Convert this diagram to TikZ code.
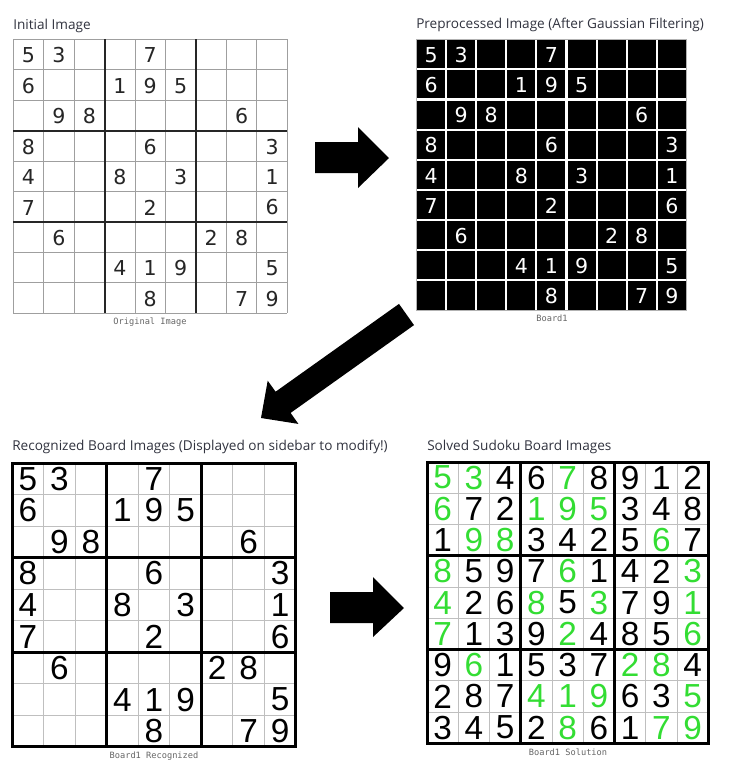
\documentclass[tikz,border=0pt]{standalone}
\usepackage{fontspec}
\setmainfont{Open Sans}
\newfontfamily\digA{DejaVu Sans}
\newfontfamily\digB{Liberation Sans}
\newfontfamily\capfont{DejaVu Sans Mono}
\definecolor{titlecol}{HTML}{31333F}
\definecolor{capcol}{HTML}{666666}
\definecolor{solg}{HTML}{33DD33}
\definecolor{solk}{HTML}{000000}
\tikzset{
  titletext/.style={anchor=base west,inner sep=0,text=titlecol,font=\fontsize{10.2}{11}\selectfont},
  captext/.style={anchor=base,inner sep=0,text=capcol,font=\capfont\fontsize{6.5}{7}\selectfont},
  digitA/.style={inner sep=0,font=\digA\fontsize{15.4}{16}\selectfont},
  digitB/.style={inner sep=0,font=\digB\fontsize{25}{25}\selectfont},
  thingray/.style={draw=gray!75,line width=0.75pt},
  thickdark/.style={draw=black!85,line width=1.5pt},
  thinlight/.style={draw=gray!50,line width=0.75pt},
  thickblack/.style={draw=black,line width=1.9pt},
  blockarrow/.style={fill=black,draw=none},
}
\begin{document}
\begin{tikzpicture}[x=0.75pt,y=-0.75pt]
\useasboundingbox (0,0) rectangle (730,779);
\fill[white] (0,0) rectangle (730,779);

% ---------- titles ----------
\node[titletext] (t1) at (13,29.3) {Initial Image};
\node[titletext] (t2) at (416,28.5) {Preprocessed Image (After Gaussian Filtering)};
\node[titletext] (t3) at (12,450.5) {Recognized Board Images (Displayed on sidebar to modify!)};
\node[titletext] (t4) at (427,450) {Solved Sudoku Board Images};

% ---------- captions ----------
\node[captext] (c1) at (150,324) {Original Image};
\node[captext] (c2) at (552,321) {Board1};
\node[captext] (c3) at (154,758) {Board1 Recognized};
\node[captext] (c4) at (568,755) {Board1 Solution};

% ---------- board 1: original ----------
\begin{scope}[shift={(13.3,39.3)}]
\def\s{30.44}
\foreach \i in {0,...,9} {
  \draw[thingray] (\i*\s,0) -- (\i*\s,9*\s);
  \draw[thingray] (0,\i*\s) -- (9*\s,\i*\s);
}
\foreach \i in {3,6} {
  \draw[thickdark] (\i*\s,0) -- (\i*\s,9*\s);
  \draw[thickdark] (0,\i*\s) -- (9*\s,\i*\s);
}
\foreach \row [count=\r] in {{5,3,0,0,7,0,0,0,0},{6,0,0,1,9,5,0,0,0},{0,9,8,0,0,0,0,6,0},{8,0,0,0,6,0,0,0,3},{4,0,0,8,0,3,0,0,1},{7,0,0,0,2,0,0,0,6},{0,6,0,0,0,0,2,8,0},{0,0,0,4,1,9,0,0,5},{0,0,0,0,8,0,0,7,9}} {
  \foreach \d [count=\c] in \row {
    \ifnum\d>0 \node[digitA,text=black!85] (a-\r-\c) at ({(\c-0.5)*\s},{(\r-0.5)*\s+0.8}) {\d}; \fi
  }
}
\end{scope}

% ---------- board 2: preprocessed ----------
\begin{scope}[shift={(416,39.3)}]
\def\s{30.1}
\fill[black] (0,0) rectangle (9*\s,9*\s);
\foreach \i in {1,...,8} {
  \draw[white,line width=1.6pt] (\i*\s,0) -- (\i*\s,9*\s);
  \draw[white,line width=1.6pt] (0,\i*\s) -- (9*\s,\i*\s);
}
\draw[gray!60,line width=0.75pt] (0,0) rectangle (9*\s,9*\s);
\foreach \row [count=\r] in {{5,3,0,0,7,0,0,0,0},{6,0,0,1,9,5,0,0,0},{0,9,8,0,0,0,0,6,0},{8,0,0,0,6,0,0,0,3},{4,0,0,8,0,3,0,0,1},{7,0,0,0,2,0,0,0,6},{0,6,0,0,0,0,2,8,0},{0,0,0,4,1,9,0,0,5},{0,0,0,0,8,0,0,7,9}} {
  \foreach \d [count=\c] in \row {
    \ifnum\d>0 \node[digitA,text=white] (p-\r-\c) at ({(\c-0.5)*\s},{(\r-0.5)*\s+0.8}) {\d}; \fi
  }
}
\end{scope}

% ---------- board 3: recognized ----------
\begin{scope}[shift={(12,463)}]
\def\s{31.55}
\foreach \i in {1,2,4,5,7,8} {
  \draw[thinlight] (\i*\s,0) -- (\i*\s,9*\s);
  \draw[thinlight] (0,\i*\s) -- (9*\s,\i*\s);
}
\foreach \i in {3,6} {
  \draw[thickblack] (\i*\s,0) -- (\i*\s,9*\s);
  \draw[thickblack] (0,\i*\s) -- (9*\s,\i*\s);
}
\draw[black,line width=2.25pt] (0,0) rectangle (9*\s,9*\s);
\foreach \row [count=\r] in {{5,3,0,0,7,0,0,0,0},{6,0,0,1,9,5,0,0,0},{0,9,8,0,0,0,0,6,0},{8,0,0,0,6,0,0,0,3},{4,0,0,8,0,3,0,0,1},{7,0,0,0,2,0,0,0,6},{0,6,0,0,0,0,2,8,0},{0,0,0,4,1,9,0,0,5},{0,0,0,0,8,0,0,7,9}} {
  \foreach \d [count=\c] in \row {
    \ifnum\d>0 \node[digitB,text=black] (r-\r-\c) at ({(\c-0.5)*\s},{(\r-0.5)*\s}) {\d}; \fi
  }
}
\end{scope}

% ---------- board 4: solution ----------
\begin{scope}[shift={(427,462)}]
\def\s{31.25}
\foreach \i in {1,2,4,5,7,8} {
  \draw[thinlight] (\i*\s,0) -- (\i*\s,9*\s);
  \draw[thinlight] (0,\i*\s) -- (9*\s,\i*\s);
}
\foreach \i in {3,6} {
  \draw[thickblack] (\i*\s,0) -- (\i*\s,9*\s);
  \draw[thickblack] (0,\i*\s) -- (9*\s,\i*\s);
}
\draw[black,line width=2.25pt] (0,0) rectangle (9*\s,9*\s);
\foreach \row [count=\r] in {
 {solg/5,solg/3,solk/4,solk/6,solg/7,solk/8,solk/9,solk/1,solk/2},
 {solg/6,solk/7,solk/2,solg/1,solg/9,solg/5,solk/3,solk/4,solk/8},
 {solk/1,solg/9,solg/8,solk/3,solk/4,solk/2,solk/5,solg/6,solk/7},
 {solg/8,solk/5,solk/9,solk/7,solg/6,solk/1,solk/4,solk/2,solg/3},
 {solg/4,solk/2,solk/6,solg/8,solk/5,solg/3,solk/7,solk/9,solg/1},
 {solg/7,solk/1,solk/3,solk/9,solg/2,solk/4,solk/8,solk/5,solg/6},
 {solk/9,solg/6,solk/1,solk/5,solk/3,solk/7,solg/2,solg/8,solk/4},
 {solk/2,solk/8,solk/7,solg/4,solg/1,solg/9,solk/6,solk/3,solg/5},
 {solk/3,solk/4,solk/5,solk/2,solg/8,solk/6,solk/1,solg/7,solg/9}} {
  \foreach \cl/\d [count=\c] in \row {
    \node[digitB,text=\cl] (s-\r-\c) at ({(\c-0.5)*\s},{(\r-0.5)*\s}) {\d};
  }
}
\end{scope}

% ---------- block arrows ----------
\fill[blockarrow] (315,142) -- (358,142) -- (358,127) -- (389,158) -- (358,188) -- (358,173) -- (315,173) -- cycle;
\fill[blockarrow] (414.0,325.1) -- (290.6,412.9) -- (298.4,423.9) -- (261,418) -- (267.7,380.7) -- (275.6,391.7) -- (399.0,303.9) -- cycle;
\fill[blockarrow] (330,592) -- (373,592) -- (373,577) -- (404,608) -- (373,637) -- (373,623) -- (330,623) -- cycle;
\end{tikzpicture}
\end{document}
